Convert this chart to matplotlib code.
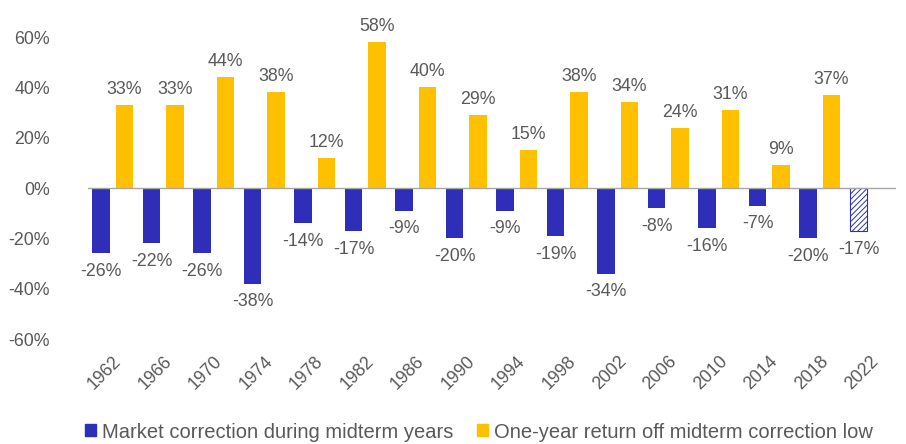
import matplotlib
matplotlib.use("Agg")
import matplotlib.pyplot as plt
import matplotlib.patches as mpatches
import numpy as np
from matplotlib import font_manager

years = ["1962", "1966", "1970", "1974", "1978", "1982", "1986", "1990",
         "1994", "1998", "2002", "2006", "2010", "2014", "2018", "2022"]
market_correction = [-26, -22, -26, -38, -14, -17, -9, -20, -9, -19, -34, -8, -16, -7, -20, -17]
one_year_return = [33, 33, 44, 38, 12, 58, 40, 29, 15, 38, 34, 24, 31, 9, 37, None]
yticks = [-60, -40, -20, 0, 20, 40, 60]

names = {f.name for f in font_manager.fontManager.ttflist}
font = "Liberation Sans" if "Liberation Sans" in names else "DejaVu Sans"
plt.rcParams['font.family'] = [font, 'DejaVu Sans']
plt.rcParams['hatch.linewidth'] = 0.7

BLUE = "#2E2EB8"
YELLOW = "#FFC000"
GRAY = "#595959"
FS = 12.8

fig = plt.figure(figsize=(9.06, 4.44), dpi=100)
ax = fig.add_axes([87.5/906, 1-339/444, (895.5-87.5)/906, (339-37)/444])

x = np.arange(len(years))
w = 0.35
off = 0.23

for i, (m, r) in enumerate(zip(market_correction, one_year_return)):
    if i == len(years) - 1:
        ax.bar(x[i] - off, m, w, facecolor="white", edgecolor=BLUE, hatch="//////", linewidth=0.8)
    else:
        ax.bar(x[i] - off, m, w, color=BLUE)
    ax.annotate(f"{m}%", (x[i] - off, m), xytext=(0, -7), textcoords="offset points",
                ha="center", va="top", fontsize=FS, color=GRAY)
    if r is not None:
        ax.bar(x[i] + off, r, w, color=YELLOW)
        ax.annotate(f"{r}%", (x[i] + off, r), xytext=(0, 5), textcoords="offset points",
                    ha="center", va="bottom", fontsize=FS, color=GRAY)

ax.axhline(0, color="#A6A6A6", linewidth=1)
ax.set_xlim(-0.5, len(years) - 0.5)
ax.set_ylim(-60, 60)
ax.set_yticks(yticks)
ax.set_yticklabels([f"{v}%" for v in yticks], fontsize=FS, color=GRAY)
ax.set_xticks(x)
ax.set_xticklabels(years, rotation=45, ha="right", rotation_mode="anchor", fontsize=FS, color=GRAY)
ax.tick_params(axis="both", length=0)
ax.tick_params(axis="y", pad=27)
ax.tick_params(axis="x", pad=10)
for s in ax.spines.values():
    s.set_visible(False)

handles = [mpatches.Patch(color=BLUE, label="Market correction during midterm years"),
           mpatches.Patch(color=YELLOW, label="One-year return off midterm correction low")]
fig.legend(handles=handles, loc="center", bbox_to_anchor=(479/906, 1-432/444), ncol=2,
           frameon=False, prop={"size": 14.5}, labelcolor=GRAY,
           handlelength=0.55, handleheight=0.55, handletextpad=0.3, columnspacing=1.2)

fig.savefig("out.png", dpi=100)
